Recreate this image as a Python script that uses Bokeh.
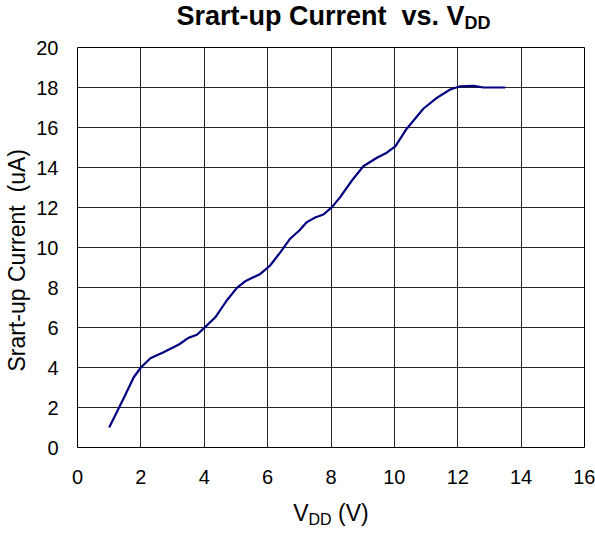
import math
from bokeh.plotting import figure
from bokeh.models import Label, FixedTicker, Range1d
from bokeh.layouts import column
from bokeh.embed import file_html
from bokeh.resources import INLINE

# data
vdd = [1.0, 1.5, 1.77, 2.0, 2.3, 2.7, 3.2, 3.5, 3.77, 4.0, 4.35, 4.71, 5.03, 5.29,
       5.77, 6.08, 6.4, 6.71, 7.0, 7.24, 7.5, 7.76, 8.03, 8.29, 8.66, 9.02, 9.45,
       9.76, 10.03, 10.39, 10.92, 11.34, 11.76, 12.08, 12.5, 12.81, 13.5]
current = [1.0, 2.6, 3.5, 4.0, 4.46, 4.75, 5.15, 5.48, 5.64, 5.98, 6.51, 7.35, 7.98,
           8.31, 8.68, 9.1, 9.76, 10.44, 10.85, 11.27, 11.5, 11.65, 12.02, 12.52,
           13.35, 14.06, 14.49, 14.74, 15.06, 15.94, 16.95, 17.48, 17.9, 18.06,
           18.08, 18.0, 18.0]
x_ticks = [0, 2, 4, 6, 8, 10, 12, 14, 16]
y_ticks = [0, 2, 4, 6, 8, 10, 12, 14, 16, 18, 20]

FONT = "Liberation Sans"
W = 595


def text_fig(h):
    f = figure(width=W, height=h, output_backend="svg", toolbar_location=None,
               x_range=Range1d(0, W), y_range=Range1d(0, h), min_border=0,
               x_axis_location=None, y_axis_location=None, frame_align=False)
    f.grid.visible = False
    f.outline_line_color = None
    f.background_fill_color = "white"
    f.border_fill_color = "white"
    return f


def lab(f, text, x, y, size, align="left", bold=False):
    f.add_layout(Label(x=x, y=y, x_units="screen", y_units="screen", text=text,
                       text_font=FONT, text_font_size=size, text_align=align,
                       text_baseline="alphabetic",
                       text_font_style="bold" if bold else "normal",
                       text_color="black"))


# ---- title strip ----
t = text_fig(33)
lab(t, "Srart-up Current \u00a0vs. V", 464, 17.6, "27px", align="right", bold=True)
lab(t, "DD", 464, 10.6, "18px", align="left", bold=True)

# ---- main chart ----
p = figure(width=W, height=461, output_backend="svg", toolbar_location=None,
           x_range=Range1d(0, 16), y_range=Range1d(0, 20), frame_align=False,
           min_border_left=77, min_border_right=11, min_border_top=14, min_border_bottom=47)
p.background_fill_color = "white"
p.border_fill_color = "white"
p.outline_line_color = "black"
p.outline_line_width = 1

p.line(vdd, current, line_color="#000080", line_width=2.2)

p.xaxis.ticker = FixedTicker(ticks=x_ticks)
p.yaxis.ticker = FixedTicker(ticks=y_ticks)
p.xgrid.ticker = FixedTicker(ticks=x_ticks)
p.ygrid.ticker = FixedTicker(ticks=y_ticks)
p.grid.grid_line_color = "black"
p.grid.grid_line_alpha = 0.85
p.grid.grid_line_width = 1

for ax in (p.xaxis, p.yaxis):
    ax.axis_line_color = None
    ax.major_tick_line_color = None
    ax.minor_tick_line_color = None
    ax.major_label_text_font = FONT
    ax.major_label_text_font_size = "20px"
    ax.major_label_text_color = "black"
p.xaxis.major_label_standoff = 16
p.yaxis.major_label_standoff = 13

p.yaxis.axis_label = "Srart-up Current \u00a0(uA)" + "\u00a0" * 4
p.yaxis.axis_label_text_font = FONT
p.yaxis.axis_label_text_font_size = "23px"
p.yaxis.axis_label_text_font_style = "normal"
p.yaxis.axis_label_text_color = "black"
p.yaxis.axis_label_standoff = 3

# ---- x axis label strip ----
xl = text_fig(42)
lab(xl, "V", 308, 24, "23px", align="right")
lab(xl, "DD", 308, 16.6, "16px", align="left")
lab(xl, "(V)", 337.5, 24, "23px", align="left")

layout = column(t, p, xl, spacing=0)
open("out.html", "w").write(file_html(layout, INLINE))
